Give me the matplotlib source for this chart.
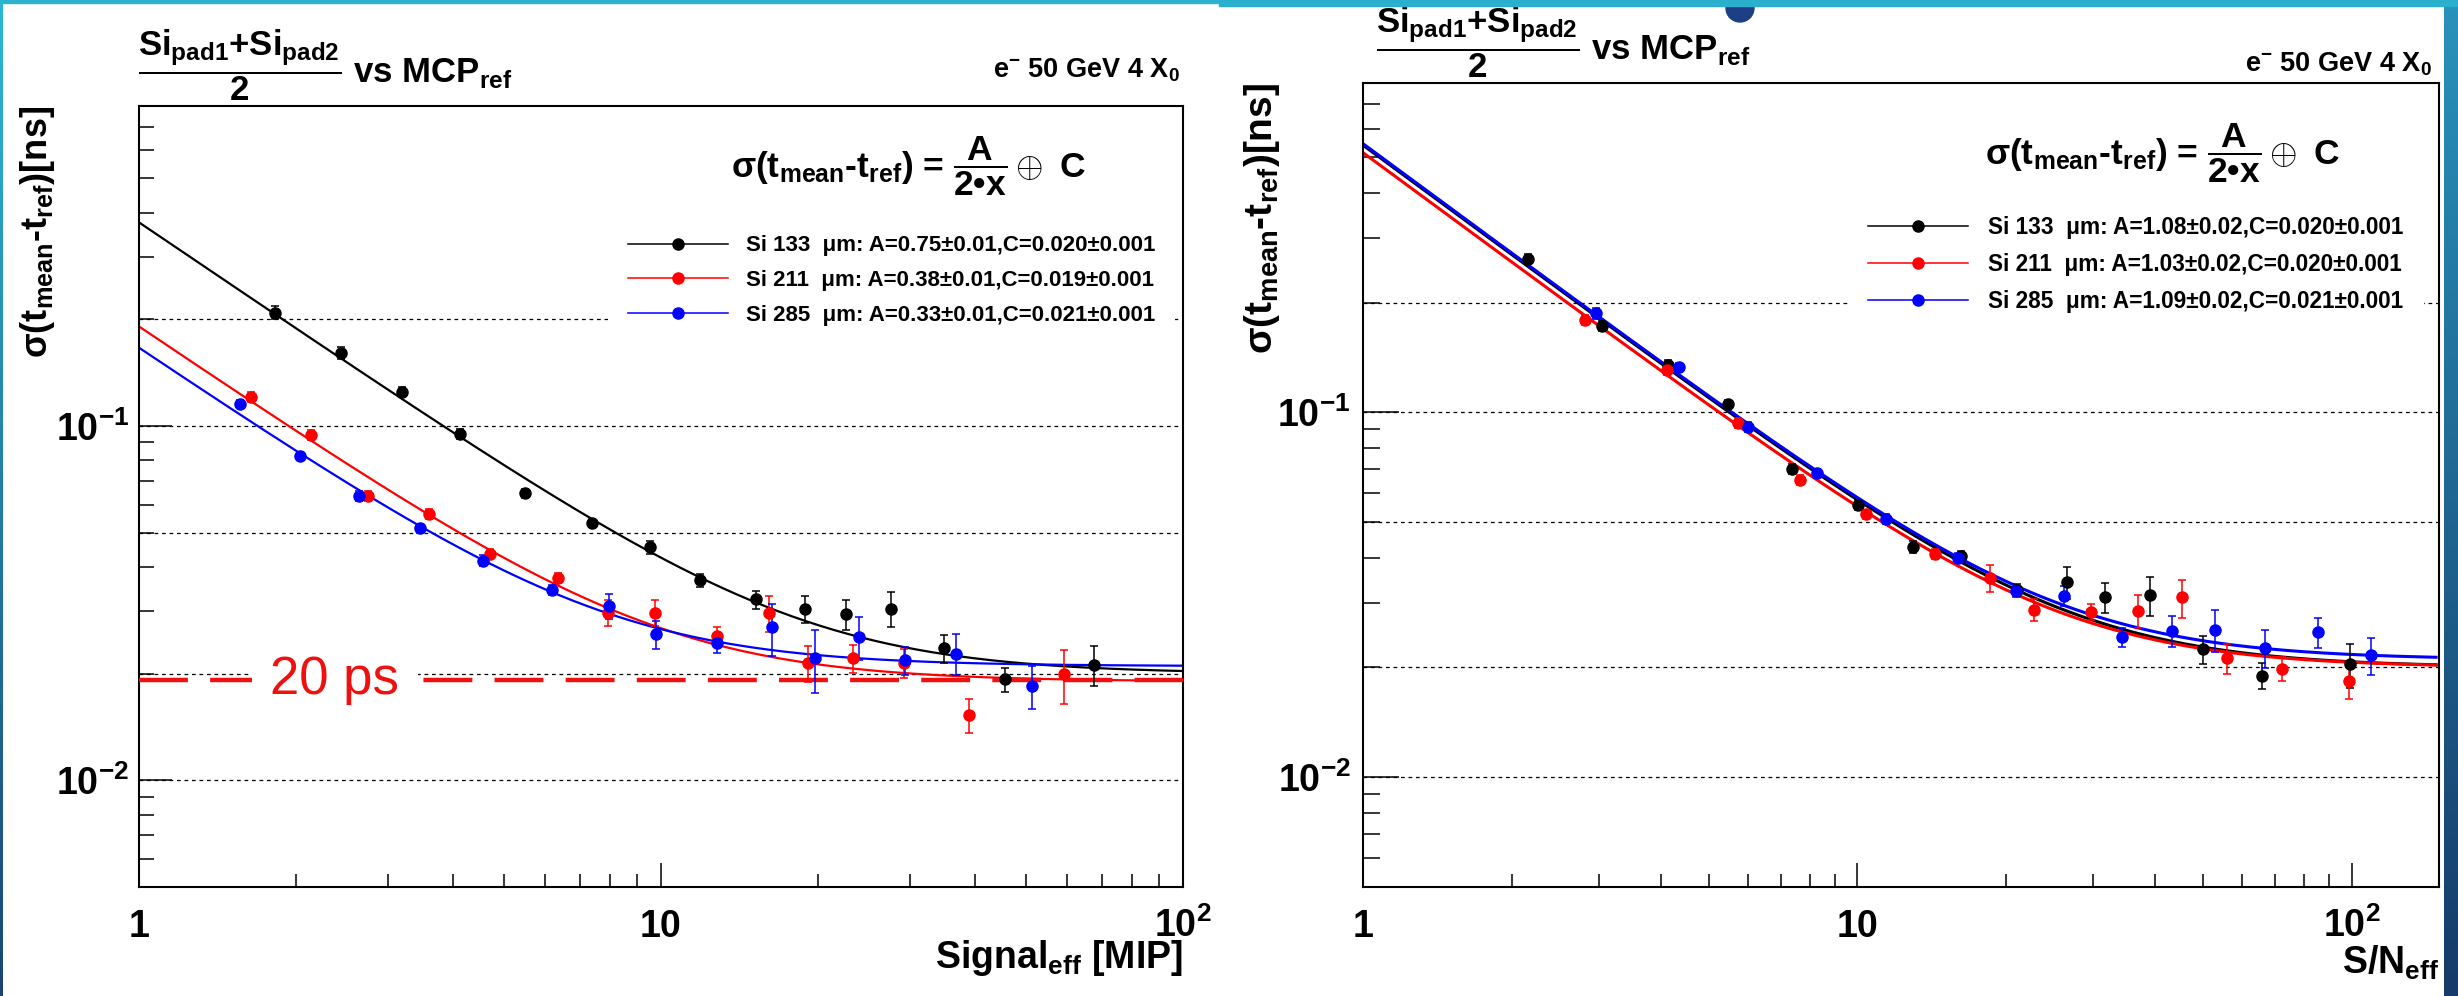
import numpy as np
import matplotlib
matplotlib.use('Agg')
import matplotlib.pyplot as plt
from matplotlib.lines import Line2D
from matplotlib.patches import Rectangle, Ellipse
from matplotlib.colors import LinearSegmentedColormap
from matplotlib.ticker import FixedLocator, LogLocator, NullFormatter

plt.rcParams['font.family'] = ['Liberation Sans', 'DejaVu Sans']
plt.rcParams['font.weight'] = 'bold'
plt.rcParams['axes.labelweight'] = 'bold'
plt.rcParams['mathtext.fontset'] = 'custom'
plt.rcParams['mathtext.rm'] = 'Liberation Sans:bold'
plt.rcParams['mathtext.it'] = 'Liberation Sans:bold'
plt.rcParams['mathtext.bf'] = 'Liberation Sans:bold'
plt.rcParams['mathtext.sf'] = 'Liberation Sans:bold'

# ---- left panel: sigma vs effective signal [MIP]
sig_133_x = [1.82, 2.44, 3.19, 4.12, 5.48, 7.39, 9.54, 11.86, 15.2, 18.9, 22.6, 27.6, 34.9, 45.6, 67.6]
sig_133_y = [0.209, 0.161, 0.1245, 0.095, 0.0645, 0.0533, 0.0455, 0.0367, 0.0324, 0.0305, 0.0294, 0.0305, 0.0236, 0.0193, 0.0212]
sig_133_e = [0.009, 0.006, 0.004, 0.003, 0.002, 0.0015, 0.0019, 0.0015, 0.0019, 0.0027, 0.0028, 0.0034, 0.0021, 0.0015, 0.0028]

sig_211_x = [1.64, 2.14, 2.75, 3.60, 4.71, 6.34, 7.91, 9.75, 12.8, 16.1, 19.1, 23.3, 29.2, 38.9, 59.2]
sig_211_y = [0.121, 0.0943, 0.0636, 0.0564, 0.0436, 0.0373, 0.0297, 0.0297, 0.0256, 0.0297, 0.0215, 0.0221, 0.0215, 0.0153, 0.0199]
sig_211_e = [0.004, 0.003, 0.002, 0.0018, 0.0013, 0.0012, 0.0025, 0.0025, 0.0015, 0.0035, 0.0025, 0.002, 0.002, 0.0017, 0.0035]

sig_285_x = [1.56, 2.03, 2.64, 3.46, 4.57, 6.17, 7.94, 9.79, 12.8, 16.3, 19.7, 24.0, 29.4, 36.7, 51.3]
sig_285_y = [0.1156, 0.0825, 0.0636, 0.0515, 0.0417, 0.0345, 0.0310, 0.0258, 0.0244, 0.0270, 0.0221, 0.0254, 0.0218, 0.0228, 0.01845]
sig_285_e = [0.003, 0.002, 0.002, 0.0015, 0.0015, 0.0012, 0.0025, 0.0023, 0.0015, 0.0045, 0.0045, 0.0035, 0.002, 0.003, 0.0026]

sig_A = [0.75, 0.38, 0.33]
sig_C = [0.020, 0.019, 0.021]

# ---- right panel: sigma vs effective S/N
sn_133_x = [2.16, 3.04, 4.13, 5.48, 7.36, 10.04, 12.94, 16.2, 21.0, 26.5, 31.7, 39.0, 49.9, 65.8, 99.1]
sn_133_y = [0.263, 0.1727, 0.1352, 0.1054, 0.0700, 0.0557, 0.0428, 0.0403, 0.0326, 0.0342, 0.0311, 0.0315, 0.0224, 0.0190, 0.0204]
sn_133_e = [0.008, 0.005, 0.004, 0.003, 0.002, 0.0018, 0.0015, 0.0015, 0.0012, 0.0034, 0.0029, 0.0038, 0.002, 0.0015, 0.0028]

sn_211_x = [2.81, 4.11, 5.72, 7.66, 10.40, 14.38, 18.5, 22.8, 29.6, 37.0, 45.3, 55.9, 72.3, 98.6]
sn_211_y = [0.1794, 0.1305, 0.0935, 0.0653, 0.0525, 0.0410, 0.0351, 0.0288, 0.0284, 0.0286, 0.0311, 0.0212, 0.0198, 0.0184]
sn_211_e = [0.006, 0.004, 0.003, 0.002, 0.0015, 0.0013, 0.003, 0.002, 0.0015, 0.003, 0.0037, 0.002, 0.0015, 0.002]

sn_285_x = [2.96, 4.35, 6.0, 8.28, 11.42, 16.0, 20.9, 26.2, 34.3, 43.3, 52.8, 66.6, 85.3, 109.5]
sn_285_y = [0.1868, 0.1329, 0.0913, 0.0681, 0.0511, 0.0400, 0.0323, 0.0314, 0.0242, 0.0252, 0.0254, 0.0226, 0.0250, 0.0216]
sn_285_e = [0.006, 0.004, 0.003, 0.002, 0.0015, 0.0013, 0.0012, 0.002, 0.0015, 0.0025, 0.0033, 0.0027, 0.0024, 0.0025]

sn_A = [1.08, 1.03, 1.09]
sn_C = [0.020, 0.020, 0.021]

sensors = ['133', '211', '285']
colors = ['black', 'red', 'blue']
grid_levels = [0.01, 0.02, 0.05, 0.1, 0.2]
ps20_level = 0.0192

W, H = 2458, 996
fig = plt.figure(figsize=(W / 100, H / 100), dpi=100)


def fx(x):
    return x / W


def fy(y):
    return 1 - y / H


def axes_px(l, t, r, b):
    return fig.add_axes([fx(l), fy(b), (r - l) / W, (b - t) / H])


def setup(ax, xmax, ymaj_len, ymin_len, ypad):
    ax.set_xscale('log')
    ax.set_yscale('log')
    ax.set_xlim(1, xmax)
    ax.set_ylim(0.005, 0.8)
    ax.xaxis.set_major_locator(FixedLocator([1, 10, 100]))
    ax.set_xticklabels(['1', '10', r'$10^{2}$'])
    ax.yaxis.set_major_locator(FixedLocator([0.01, 0.1]))
    ax.set_yticklabels([r'$10^{-2}$', r'$10^{-1}$'])
    ax.xaxis.set_minor_locator(LogLocator(base=10, subs=np.arange(2, 10), numticks=30))
    ax.yaxis.set_minor_locator(LogLocator(base=10, subs=np.arange(2, 10), numticks=30))
    ax.xaxis.set_minor_formatter(NullFormatter())
    ax.yaxis.set_minor_formatter(NullFormatter())
    ax.tick_params(which='both', direction='in', top=False, right=False,
                   width=1.1, labelsize=27)
    ax.tick_params(axis='x', which='major', length=17, pad=36)
    ax.tick_params(axis='x', which='minor', length=9.5)
    ax.tick_params(axis='y', which='major', length=ymaj_len, pad=ypad)
    ax.tick_params(axis='y', which='minor', length=ymin_len)
    for lab in ax.get_xticklabels():
        lab.set_va('baseline')
    for s in ax.spines.values():
        s.set_linewidth(1.5)
    for g in grid_levels:
        ax.axhline(g, color='black', lw=0.9, ls=(0, (3, 3)), zorder=1)


def draw(ax, xs, ys, es, A, C, xmax, fit_lw):
    xf = np.logspace(0, np.log10(xmax), 300)
    for a, c, col in zip(A, C, colors):
        ax.plot(xf, np.sqrt((a / (2 * xf)) ** 2 + c ** 2), color=col, lw=fit_lw, zorder=2)
    for x, y, e, col in zip(xs, ys, es, colors):
        ax.errorbar(x, y, yerr=e, fmt='o', color=col, ms=8, elinewidth=1.1,
                    capsize=3, capthick=1.1, zorder=4)


def legend(ax, A, C, Aerr, anchor, size, hl, tp):
    handles = [Line2D([], [], color=col, lw=1.1, marker='o', ms=8) for col in colors]
    labels = ['Si %s  \u03bcm: A=%.2f\u00b1%.2f,C=%.3f\u00b10.001' % (s, a, Aerr, c)
              for s, a, c in zip(sensors, A, C)]
    ax.legend(handles, labels, loc='upper left', bbox_to_anchor=anchor, frameon=True,
              fancybox=False, edgecolor='none', facecolor='white', framealpha=1,
              prop={'size': size, 'weight': 'bold'}, handlelength=hl, handletextpad=tp,
              labelspacing=0.62, borderpad=0.9, borderaxespad=0, numpoints=1)


# left panel
axL = axes_px(139, 106, 1183, 887)
setup(axL, 100, 23.5, 10.8, 7)
draw(axL, [sig_133_x, sig_211_x, sig_285_x], [sig_133_y, sig_211_y, sig_285_y],
     [sig_133_e, sig_211_e, sig_285_e], sig_A, sig_C, 100, 1.6)
legend(axL, sig_A, sig_C, 0.01, (0.4492, 0.860), 16, 4.5, 0.8)
axL.axhline(ps20_level, color='#f01010', lw=3.2, ls=(0, (11, 5)), zorder=3)
axL.text(2.37, ps20_level, '20 ps', color='#f01010', fontsize=38, fontweight='normal',
         ha='center', va='center', zorder=5,
         bbox=dict(boxstyle='square,pad=0.35', fc='white', ec='none'))
axL.set_xlabel(r'Signal$_{eff}$ [MIP]', fontsize=27, ha='right', va='baseline')
axL.xaxis.set_label_coords(1.0, -(968 - 887) / 781)
axL.set_ylabel(r'σ(t$_{mean}$-t$_{ref}$)[ns]', fontsize=26, ha='right', va='center',
               rotation=90, rotation_mode='anchor')
axL.yaxis.set_label_coords((38 - 139) / 1044, 1.0)

# right panel
axR = axes_px(1363, 83, 2439, 887)
setup(axR, 150, 26, 11.9, 9)
draw(axR, [sn_133_x, sn_211_x, sn_285_x], [sn_133_y, sn_211_y, sn_285_y],
     [sn_133_e, sn_211_e, sn_285_e], sn_A, sn_C, 148, 2.2)
legend(axR, sn_A, sn_C, 0.02, (0.4507, 0.860), 16.3, 4.4, 0.9)
axR.set_xlabel(r'S/N$_{eff}$', fontsize=27, ha='right', va='baseline')
axR.xaxis.set_label_coords(1.0, -(974 - 887) / 805)
axR.set_ylabel(r'σ(t$_{mean}$-t$_{ref}$)[ns]', fontsize=28, ha='right', va='center',
               rotation=90, rotation_mode='anchor')
axR.yaxis.set_label_coords((1262 - 1363) / 1076, 1.0)

# titles and formula
title = r'$\dfrac{Si_{pad1}{+}Si_{pad2}}{2}$ vs MCP$_{ref}$'
formula = r'σ(t$_{mean}$-t$_{ref}$) = $\dfrac{A}{2•x}\oplus$ C'
beam = r'e$^{-}$ 50 GeV 4 X$_{0}$'
fig.text(fx(138), fy(83), title, fontsize=25, ha='left', va='baseline')
fig.text(fx(1376), fy(60), title, fontsize=25, ha='left', va='baseline')
fig.text(fx(1180), fy(77), beam, fontsize=19.5, ha='right', va='baseline')
fig.text(fx(2432), fy(72), beam, fontsize=19.5, ha='right', va='baseline')
fig.text(fx(1086), fy(178), formula, fontsize=25.5, ha='right', va='baseline')
fig.text(fx(2340), fy(165), formula, fontsize=25.5, ha='right', va='baseline')

# slide decorations
fig.add_artist(Ellipse((fx(1740), fy(8)), 28 / W, 28 / H, transform=fig.transFigure,
                       color='#1c3f86', zorder=9))
fig.add_artist(Rectangle((0, fy(3)), 1, 3 / H, transform=fig.transFigure,
                         color='#2bb3cf', zorder=10))
fig.add_artist(Rectangle((fx(1219), fy(6)), 1, 6 / H, transform=fig.transFigure,
                         color='#2aafcc', zorder=10))
grad = np.linspace(0, 1, 256)[:, None]
gl = fig.add_axes([0, 0, 3 / W, 1])
gl.imshow(grad, aspect='auto', cmap=LinearSegmentedColormap.from_list('l', ['#2bb8d4', '#1a4476']))
gl.axis('off')
gr = fig.add_axes([fx(2444), 0, 14 / W, 1])
gr.imshow(grad, aspect='auto', cmap=LinearSegmentedColormap.from_list('r', ['#2993bb', '#163a69']))
gr.axis('off')

fig.savefig('out.png', dpi=100)
